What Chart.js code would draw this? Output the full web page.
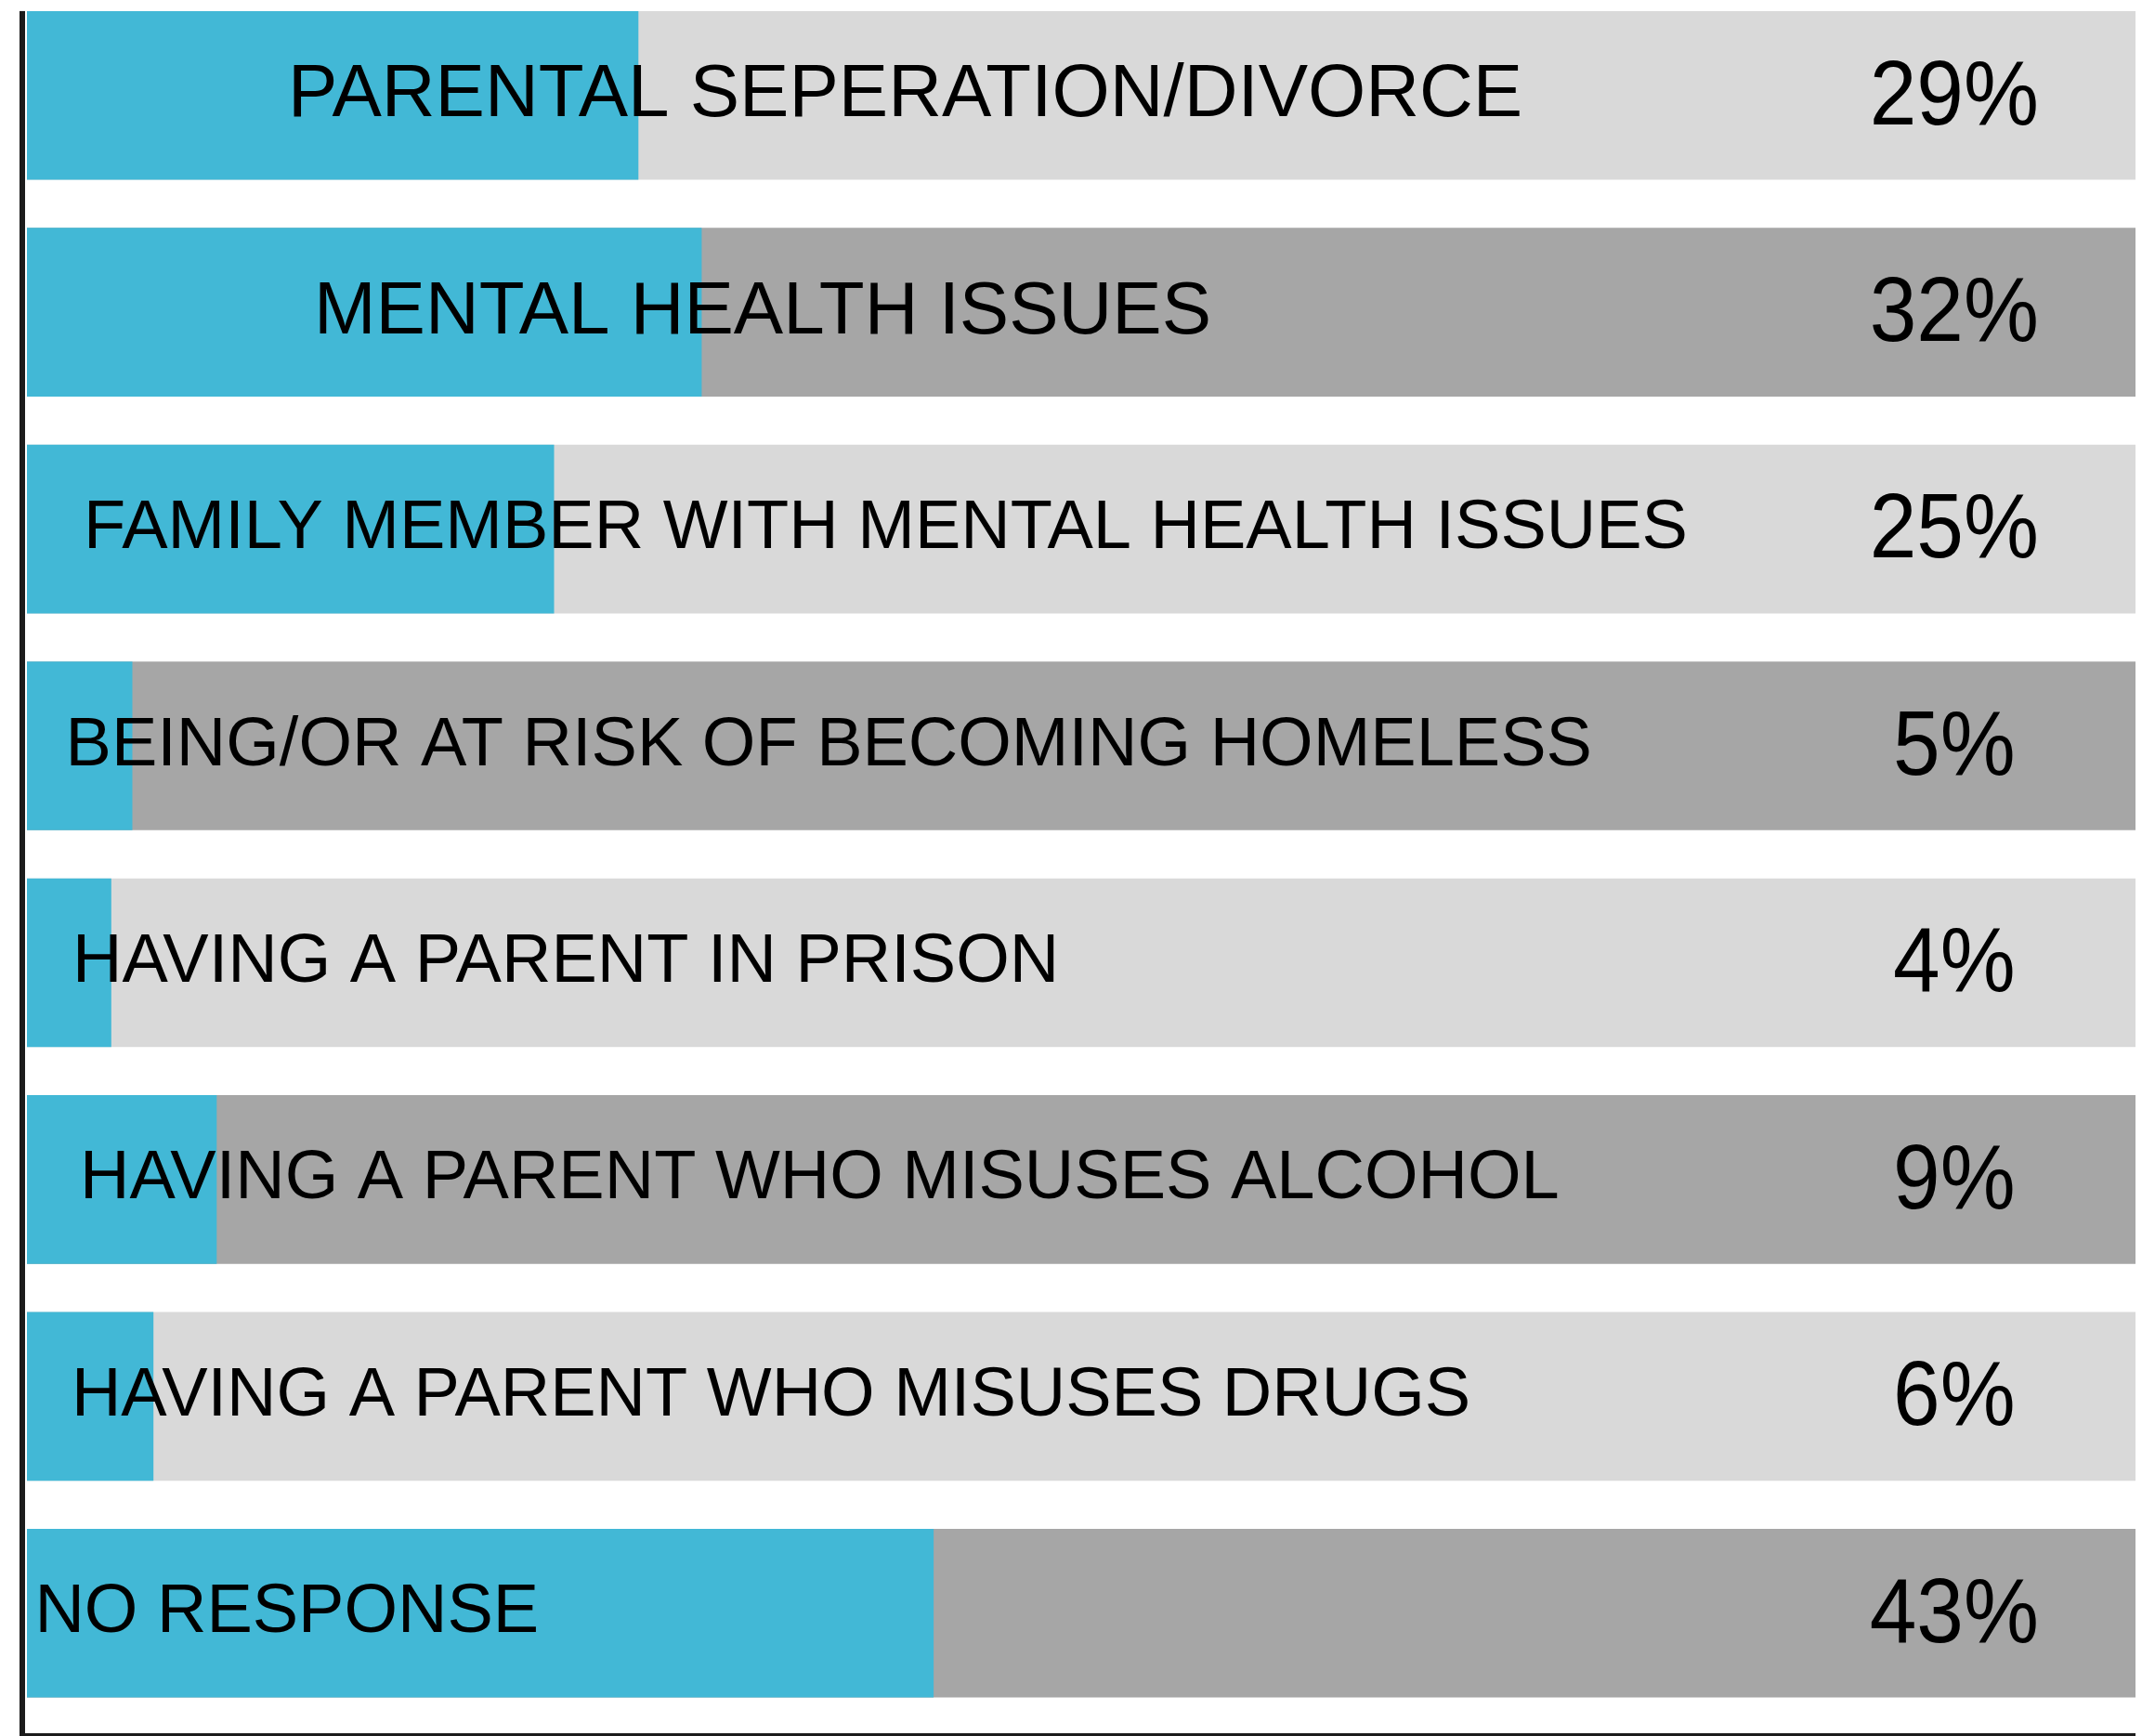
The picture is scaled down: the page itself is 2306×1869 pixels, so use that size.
<!DOCTYPE html>
<html>
<head>
<meta charset="utf-8">
<script src="https://cdn.jsdelivr.net/npm/chart.js@4.4.1/dist/chart.umd.min.js"></script>
<style>
html,body{margin:0;padding:0;background:#ffffff;overflow:hidden;width:2306px;height:1869px;}
#wrap{position:absolute;left:0;top:-14px;width:2306px;height:1883px;}
</style>
</head>
<body>
<div id="wrap"><canvas id="c" width="2306" height="1883"></canvas></div>
<script>
// ---- data ----
const categories = [
  'PARENTAL SEPERATION/DIVORCE',
  'MENTAL HEALTH ISSUES',
  'FAMILY MEMBER WITH MENTAL HEALTH ISSUES',
  'BEING/OR AT RISK OF BECOMING HOMELESS',
  'HAVING A PARENT IN PRISON',
  'HAVING A PARENT WHO MISUSES ALCOHOL',
  'HAVING A PARENT WHO MISUSES DRUGS',
  'NO RESPONSE'
];
const values = [29, 32, 25, 5, 4, 9, 6, 43];
const percentLabels = ['29%', '32%', '25%', '5%', '4%', '9%', '6%', '43%'];
const trackValues = [100, 100, 100, 100, 100, 100, 100, 100];

// ---- layout (label anchors in axis units, font sizes) ----
const labelStartPct = [12.38, 13.61, 2.69, 1.83, 2.16, 2.51, 2.11, 0.37];
const labelFontPx = [80, 80, 74, 74, 74, 74, 74, 74];
const PCT_CENTER = 91.4;

const BLUE = '#42B8D6', LIGHT = '#D9D9D9', DARK = '#A6A6A6', AXIS = '#1C1C1C';
const FONT = '"Liberation Sans", Arial, Helvetica, sans-serif';

const overlay = {
  id: 'overlay',
  afterDatasetsDraw(chart) {
    const ctx = chart.ctx;
    const xs = chart.scales.x;
    const meta = chart.getDatasetMeta(1);
    ctx.save();
    ctx.fillStyle = '#000000';
    meta.data.forEach((bar, i) => {
      const cy = bar.y;
      const fs = labelFontPx[i];
      ctx.font = fs + 'px ' + FONT;
      ctx.textAlign = 'left';
      ctx.textBaseline = 'alphabetic';
      ctx.fillText(categories[i], xs.getPixelForValue(labelStartPct[i]), cy - 6 + fs * 0.358);

      ctx.save();
      const pf = 91, sy = 1.07;
      ctx.translate(xs.getPixelForValue(PCT_CENTER), cy - 4 + pf * 0.358 * sy);
      ctx.scale(1, sy);
      ctx.font = pf + 'px ' + FONT;
      ctx.textAlign = 'center';
      ctx.fillText(percentLabels[i], 0, 0);
      ctx.restore();
    });
    // axis lines
    const first = meta.data[0];
    const top = first.y - first.height / 2;
    const left = chart.chartArea.left - 8;
    ctx.fillStyle = AXIS;
    ctx.fillRect(left, top, 6, chart.height - top);
    ctx.fillRect(left, chart.height - 3, chart.chartArea.right - left, 3);
    ctx.restore();
  }
};

new Chart(document.getElementById('c'), {
  type: 'bar',
  data: {
    labels: categories,
    datasets: [
      {
        data: values,
        backgroundColor: BLUE,
        order: 0,
        grouped: false,
        barPercentage: 0.778,
        categoryPercentage: 1.0,
        borderWidth: 0
      },
      {
        data: trackValues,
        backgroundColor: categories.map((_, i) => (i % 2 ? DARK : LIGHT)),
        order: 1,
        grouped: false,
        barPercentage: 0.778,
        categoryPercentage: 1.0,
        borderWidth: 0
      }
    ]
  },
  options: {
    indexAxis: 'y',
    responsive: false,
    animation: false,
    layout: { padding: { left: 29, right: 7, top: 0, bottom: 15.5 } },
    plugins: { legend: { display: false }, tooltip: { enabled: false } },
    scales: {
      x: { type: 'linear', min: 0, max: 100, display: false },
      y: { display: false }
    }
  },
  plugins: [overlay]
});
</script>
</body>
</html>
